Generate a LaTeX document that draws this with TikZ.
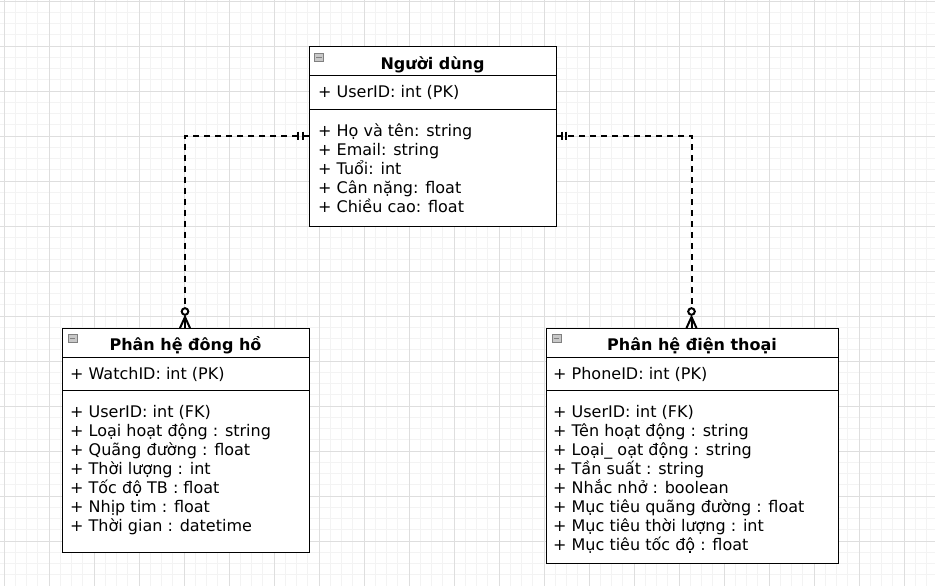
\documentclass[tikz,border=0pt]{standalone}
\usepackage{fontspec}
\setmainfont{DejaVu Sans}
\usetikzlibrary{calc}
\definecolor{gridminor}{HTML}{F3F3F3}
\definecolor{gridmajor}{HTML}{DEDEDE}
\definecolor{iconfill}{HTML}{C8C8C8}
\definecolor{iconline}{HTML}{808080}
\begin{document}
\begin{tikzpicture}[x=1pt,y=-1pt,
  classbox/.style={draw=black, line width=1pt, fill=white, inner sep=0pt, anchor=north west},
  titletext/.style={font=\fontsize{16}{19}\selectfont\bfseries, anchor=base, inner sep=0pt},
  fieldtext/.style={font=\fontsize{16}{19}\selectfont, anchor=base west, inner sep=0pt},
  sepline/.style={line width=1pt},
  conn/.style={line width=2pt, dash pattern=on 6pt off 5pt},
  mk/.style={line width=2pt},
  icon/.style={draw=iconline, fill=iconfill, line width=0.6pt, inner sep=0pt, minimum width=9pt, minimum height=8pt, anchor=north west}
]
\useasboundingbox (0,0) rectangle (935,586);
\fill[white] (0,0) rectangle (935,586);
\begin{scope}
\clip (0,0) rectangle (935,586);
\foreach \k in {0,...,83} \draw[gridminor, line width=0.8pt] ({4+11.25*\k},0) -- ++(0,586);
\foreach \k in {0,...,52} \draw[gridminor, line width=0.8pt] (0,{1+11.25*\k}) -- ++(935,0);
\foreach \k in {0,...,20} \draw[gridmajor, line width=0.8pt] ({4+45*\k},0) -- ++(0,586);
\foreach \k in {0,...,13} \draw[gridmajor, line width=0.8pt] (0,{1+45*\k}) -- ++(935,0);
\end{scope}

% ---------- Người dùng ----------
\node[classbox, minimum width=247pt, minimum height=180pt] (user) at (309,46) {};
\draw[sepline] ($(user.north west)+(0,29.5)$) -- ($(user.north east)+(0,29.5)$);
\draw[sepline] ($(user.north west)+(0,63)$) -- ($(user.north east)+(0,63)$);
\node[icon] (usericon) at (314,53) {};
\draw[iconline, line width=0.8pt] ($(usericon.west)+(2,0)$) -- ($(usericon.east)+(-2,0)$);
\node[titletext] (usertitle) at (432.5,70) {Người dùng};
\node[fieldtext] (upk) at (318,98) {+ UserID: int (PK)};
\foreach \t [count=\i] in {+ Họ và tên: string, + Email: string, + Tuổi: int, + Cân nặng: float, + Chiều cao: float}
  \node[fieldtext] (u\i) at (318,{117+19*\i}) {\t};

% ---------- Phân hệ đông hồ ----------
\node[classbox, minimum width=247pt, minimum height=224pt] (watch) at (62,328) {};
\draw[sepline] ($(watch.north west)+(0,29.5)$) -- ($(watch.north east)+(0,29.5)$);
\draw[sepline] ($(watch.north west)+(0,62)$) -- ($(watch.north east)+(0,62)$);
\node[icon] (watchicon) at (67.5,334) {};
\draw[iconline, line width=0.8pt] ($(watchicon.west)+(2,0)$) -- ($(watchicon.east)+(-2,0)$);
\node[titletext] (watchtitle) at (185.5,350) {Phân hệ đông hồ};
\node[fieldtext] (wpk) at (70,379) {+ WatchID: int (PK)};
\foreach \t [count=\i] in {+ UserID: int (FK), + Loại hoạt động : string, + Quãng đường : float, + Thời lượng : int, + Tốc độ TB : float, + Nhịp tim : float, + Thời gian : datetime}
  \node[fieldtext] (w\i) at (70,{398+19*\i}) {\t};

% ---------- Phân hệ điện thoại ----------
\node[classbox, minimum width=292pt, minimum height=235pt] (phone) at (546,328) {};
\draw[sepline] ($(phone.north west)+(0,29.5)$) -- ($(phone.north east)+(0,29.5)$);
\draw[sepline] ($(phone.north west)+(0,62)$) -- ($(phone.north east)+(0,62)$);
\node[icon] (phoneicon) at (551.5,334) {};
\draw[iconline, line width=0.8pt] ($(phoneicon.west)+(2,0)$) -- ($(phoneicon.east)+(-2,0)$);
\node[titletext] (phonetitle) at (692,350) {Phân hệ điện thoại};
\node[fieldtext] (ppk) at (553,379) {+ PhoneID: int (PK)};
\foreach \t [count=\i] in {+ UserID: int (FK), + Tên hoạt động : string, + Loại\_ oạt động : string, + Tần suất : string, + Nhắc nhở : boolean, + Mục tiêu quãng đường : float, + Mục tiêu thời lượng : int, + Mục tiêu tốc độ : float}
  \node[fieldtext] (p\i) at (553,{398+19*\i}) {\t};

% ---------- Connectors ----------
\coordinate (wtop) at ($(watch.north)+(-1,0)$);
\coordinate (ptop) at ($(phone.north)+(-1,0)$);
\draw[conn] ($(user.west)+(0,-1)$) -| ($(wtop)+(0,-16)$);
\draw[conn] ($(user.east)+(0,-1)$) -| ($(ptop)+(0,-16)$);

% one-and-only-one bars at user
\draw[mk] ($(user.west)+(-6,-5)$) -- ++(0,8);
\draw[mk] ($(user.west)+(-11,-5)$) -- ++(0,8);
\draw[mk] ($(user.east)+(5,-5)$) -- ++(0,8);
\draw[mk] ($(user.east)+(9,-5)$) -- ++(0,8);

% zero-or-many at watch
\draw[mk, fill=white] ($(wtop)+(0,-16.5)$) circle (3.3);
\draw[mk] ($(wtop)+(-5,0)$) -- ($(wtop)+(0,-11)$) -- ($(wtop)+(5,0)$);
\draw[mk] ($(wtop)+(0,-11)$) -- (wtop);
% zero-or-many at phone
\draw[mk, fill=white] ($(ptop)+(0,-16.5)$) circle (3.3);
\draw[mk] ($(ptop)+(-5,0)$) -- ($(ptop)+(0,-11)$) -- ($(ptop)+(5,0)$);
\draw[mk] ($(ptop)+(0,-11)$) -- (ptop);
\end{tikzpicture}
\end{document}
